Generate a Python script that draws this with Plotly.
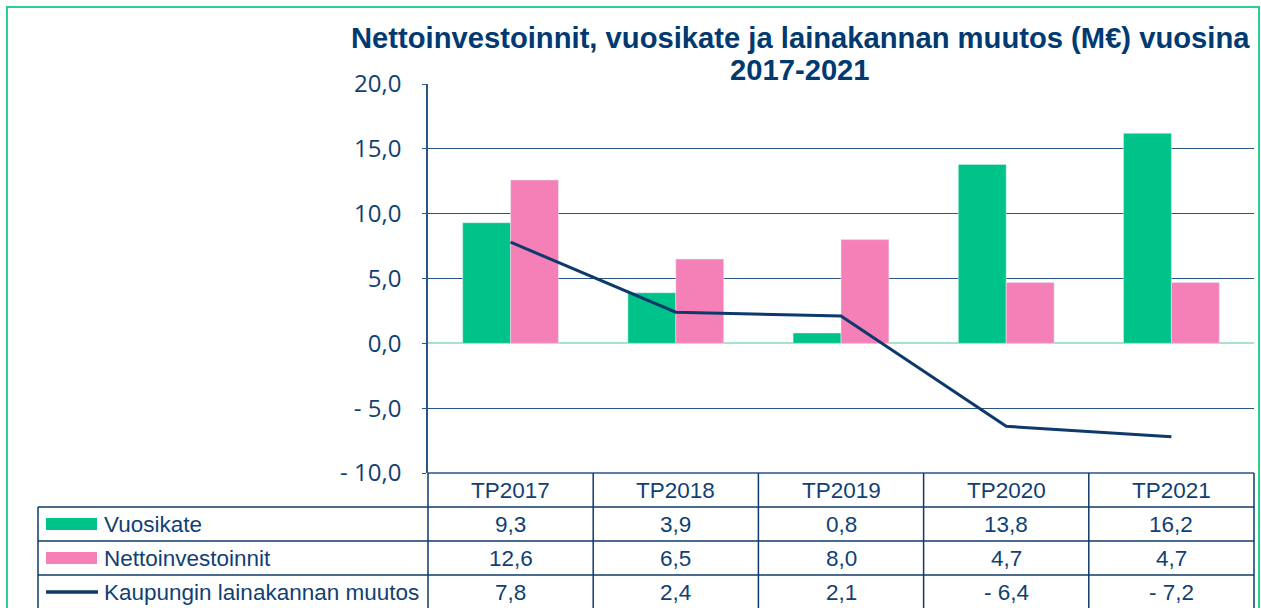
import plotly.graph_objects as go

categories = ["TP2017", "TP2018", "TP2019", "TP2020", "TP2021"]
vuosikate = [9.3, 3.9, 0.8, 13.8, 16.2]
nettoinvestoinnit = [12.6, 6.5, 8.0, 4.7, 4.7]
lainakanta = [7.8, 2.4, 2.1, -6.4, -7.2]
series_names = ["Vuosikate", "Nettoinvestoinnit", "Kaupungin lainakannan muutos"]
tick_vals = [-10, -5, 0, 5, 10, 15, 20]
tick_text = ["- 10,0", "- 5,0", "0,0", "5,0", "10,0", "15,0", "20,0"]
title_lines = ["Nettoinvestoinnit, vuosikate ja lainakannan muutos (M€) vuosina", "2017-2021"]

GREEN = "#00C389"
PINK = "#F580B8"
NAVY = "#0E3A6B"
TXT = "#123F73"
GRID = "#2B5585"
FONT = "Liberation Sans, Arial, sans-serif"


def fmt(v):
    s = f"{abs(v):.1f}".replace(".", ",")
    return ("- " + s) if v < 0 else s


fig = go.Figure()
fig.add_trace(go.Bar(x=categories, y=vuosikate, name=series_names[0], marker_color=GREEN))
fig.add_trace(go.Bar(x=categories, y=nettoinvestoinnit, name=series_names[1], marker_color=PINK))
fig.add_trace(go.Scatter(x=categories, y=lainakanta, name=series_names[2], mode="lines",
                         line=dict(color=NAVY, width=3)))

# plot area in pixels: x 428..1254, y 84..473
H = 389.0
W = 826.0


def py(p):
    return (473 - p) / H


def px(p):
    return (p - 428) / W


shapes = []
ann = []

# outer green frame
shapes.append(dict(type="rect", xref="paper", yref="paper", x0=px(7), x1=px(1259), y0=py(640), y1=py(7),
                   line=dict(color="#2BD08F", width=2)))

# title, two lines
for k, t in enumerate(title_lines):
    ann.append(dict(x=px(800), xref="paper", y=py(38 + 32 * k), yref="paper", yanchor="middle",
                    text="<b>" + t + "</b>", showarrow=False,
                    font=dict(size=29.2, color="#003A70", family=FONT)))

# table grid
row_lines = [507, 541, 575]
for r in row_lines:
    shapes.append(dict(type="line", xref="paper", yref="paper", x0=px(38), x1=1, y0=py(r), y1=py(r),
                       line=dict(color=NAVY, width=1.5)))
shapes.append(dict(type="line", xref="paper", yref="paper", x0=0, x1=1, y0=py(473), y1=py(473),
                   line=dict(color=GRID, width=1.5)))
for k in range(len(categories) + 1):
    shapes.append(dict(type="line", xref="paper", yref="paper", x0=k / len(categories), x1=k / len(categories),
                       y0=py(473), y1=py(640), line=dict(color=NAVY, width=1.5)))
shapes.append(dict(type="line", xref="paper", yref="paper", x0=px(38), x1=px(38), y0=py(507), y1=py(640),
                   line=dict(color=NAVY, width=1.5)))

# header and values
for i, c in enumerate(categories):
    ann.append(dict(x=c, xref="x", y=py(490), yref="paper", yanchor="middle", text=c, showarrow=False,
                    font=dict(size=22.5, color=TXT, family=FONT)))
    for j, vals in enumerate([vuosikate, nettoinvestoinnit, lainakanta]):
        ann.append(dict(x=c, xref="x", y=py(524 + 34 * j), yref="paper", yanchor="middle", text=fmt(vals[i]),
                        showarrow=False, font=dict(size=22.5, color=TXT, family=FONT)))

# legend keys in table
for j, name in enumerate(series_names):
    yc = 524 + 34 * j
    ann.append(dict(x=px(102), xref="paper", y=py(yc), yref="paper", yanchor="middle", text=name,
                    showarrow=False, xanchor="left", font=dict(size=22.5, color=TXT, family=FONT)))
    if j < 2:
        shapes.append(dict(type="rect", xref="paper", yref="paper", x0=px(46), x1=px(97),
                           y0=py(yc + 6), y1=py(yc - 6), line=dict(width=0),
                           fillcolor=[GREEN, PINK][j]))
    else:
        shapes.append(dict(type="line", xref="paper", yref="paper", x0=px(46), x1=px(98),
                           y0=py(yc), y1=py(yc), line=dict(color=NAVY, width=3.5)))

fig.update_layout(
    width=1261, height=608,
    margin=dict(l=428, r=7, t=84, b=135),
    plot_bgcolor="white", paper_bgcolor="white",
    barmode="group", bargap=0.42, bargroupgap=0,
    showlegend=False,
    xaxis=dict(range=[-0.5, 4.5], showticklabels=False, showgrid=False, zeroline=False, showline=False),
    yaxis=dict(range=[-10, 20], tickvals=tick_vals, ticktext=tick_text, showgrid=True, gridcolor=GRID,
               gridwidth=1, zeroline=True, zerolinecolor="#A8E2C8", zerolinewidth=2,
               showline=True, linecolor=GRID, linewidth=1.5, ticks="outside", ticklen=4, tickcolor=GRID,
               ticklabelstandoff=16, tickfont=dict(size=24, color=TXT, family="Open Sans, sans-serif")),
    shapes=shapes, annotations=ann,
)

fig.write_html("out.html", config={"displayModeBar": False},
               post_script="document.body.style.margin='0';document.body.style.overflow='hidden';")
